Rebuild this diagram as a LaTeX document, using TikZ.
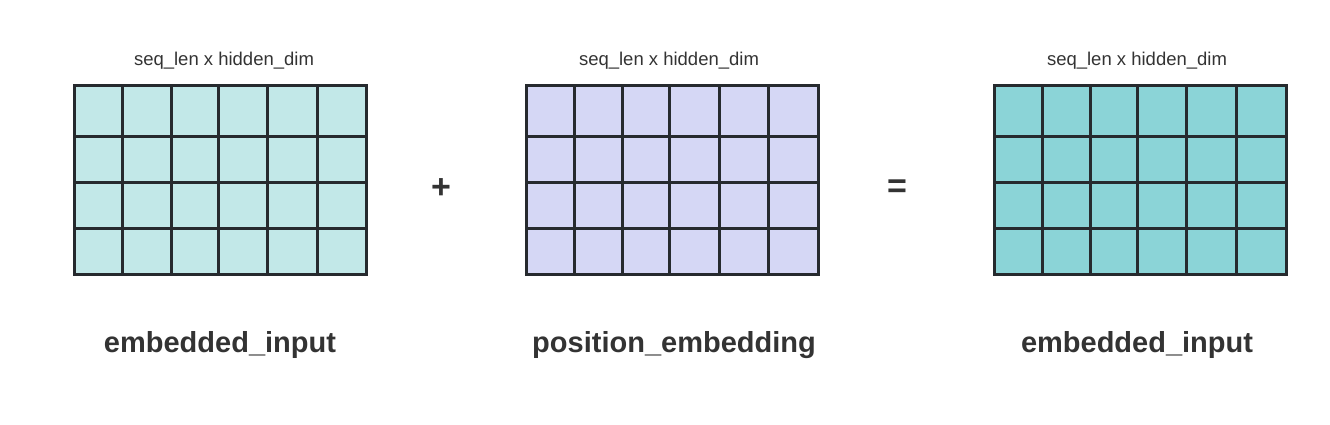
\documentclass[tikz,border=0pt]{standalone}
\usepackage{fontspec}
\setmainfont{Liberation Sans}
\definecolor{cA}{HTML}{C2E8E8}
\definecolor{cB}{HTML}{D5D7F5}
\definecolor{cC}{HTML}{8BD4D7}
\definecolor{edgecol}{HTML}{262A2E}
\definecolor{txt}{HTML}{333333}
\tikzset{
  matbox/.style={draw=edgecol, line width=3pt, inner sep=0pt, rectangle},
  gridline/.style={draw=edgecol, line width=3pt},
  captxt/.style={text=txt, font=\fontsize{18.5}{20}\selectfont, anchor=base, inner sep=0pt},
  labtxt/.style={text=txt, font=\fontsize{29}{32}\selectfont\bfseries, anchor=base, inner sep=0pt},
  optxt/.style={text=txt, font=\fontsize{34}{36}\selectfont\bfseries, inner sep=0pt}
}
\begin{document}
\begin{tikzpicture}[x=1pt,y=-1pt]
\useasboundingbox (0,0) rectangle (1330,424);
% left matrix
\node[matbox, fill=cA, minimum width=292pt, minimum height=189pt] (m1) at (220,179.5) {};
\foreach \x in {122,171,218,267,317} \draw[gridline] (\x,85) -- (\x,274);
\foreach \y in {136.5,182.5,228.5} \draw[gridline] (74,\y) -- (366,\y);
% middle matrix
\node[matbox, fill=cB, minimum width=292pt, minimum height=189pt] (m2) at (672,179.5) {};
\foreach \x in {574,622.5,669.5,719,768.5} \draw[gridline] (\x,85) -- (\x,274);
\foreach \y in {136.5,182.5,228.5} \draw[gridline] (526,\y) -- (818,\y);
% right matrix
\node[matbox, fill=cC, minimum width=292pt, minimum height=189pt] (m3) at (1140.5,179.5) {};
\foreach \x in {1042.5,1090.5,1137.5,1186.5,1236.5} \draw[gridline] (\x,85) -- (\x,274);
\foreach \y in {136.5,182.5,228.5} \draw[gridline] (994.5,\y) -- (1286.5,\y);
% captions
\node[captxt] (c1) at (224,65) {seq\_len x hidden\_dim};
\node[captxt] (c2) at (669,65) {seq\_len x hidden\_dim};
\node[captxt] (c3) at (1137,65) {seq\_len x hidden\_dim};
% labels
\node[labtxt] (l1) at (220,352) {embedded\_input};
\node[labtxt] (l2) at (674,352) {position\_embedding};
\node[labtxt] (l3) at (1137,352) {embedded\_input};
% operators
\node[optxt] (plus) at (441,189) {+};
\node[optxt] (eq) at (897,189) {=};
\end{tikzpicture}
\end{document}
